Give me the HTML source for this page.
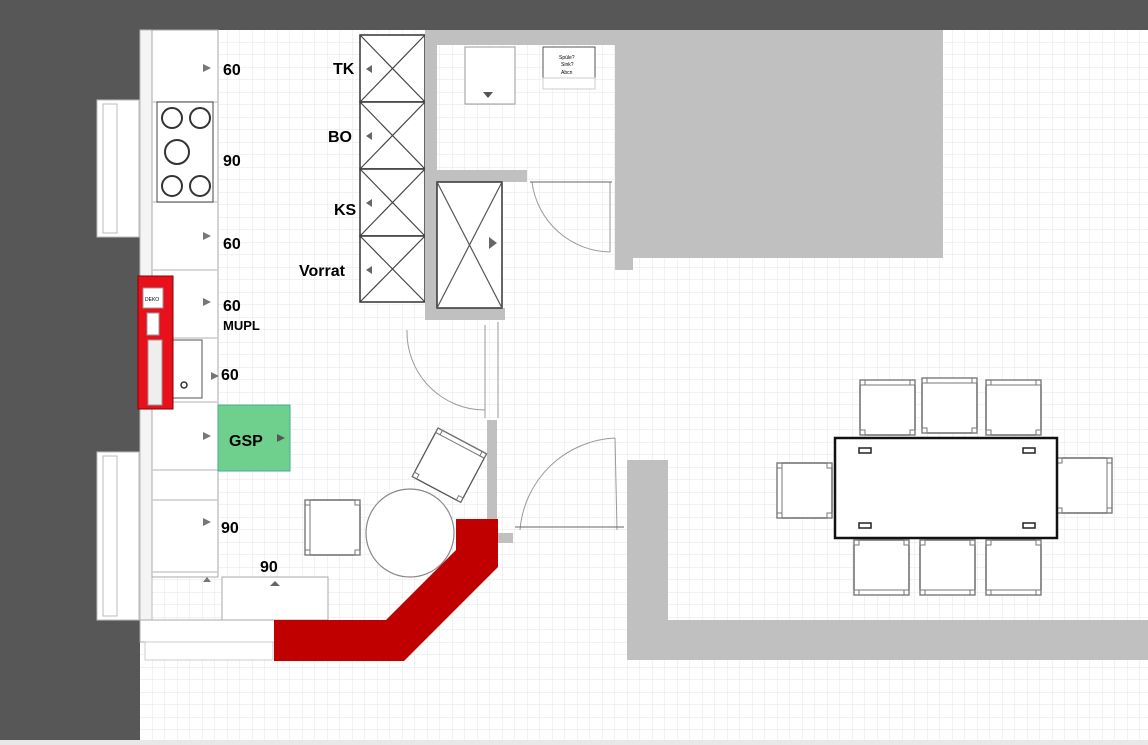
<!DOCTYPE html>
<html><head><meta charset="utf-8"><style>
html,body{margin:0;padding:0;background:#fff}
svg{display:block}
text{font-family:"Liberation Sans",sans-serif;font-weight:bold;fill:#000}
</style></head><body>
<svg width="1148" height="745" viewBox="0 0 1148 745" xmlns="http://www.w3.org/2000/svg">
<defs>
<pattern id="g" x="140" y="30" width="12.5" height="12.5" patternUnits="userSpaceOnUse">
<path d="M12.5 0V12.5H0" fill="none" stroke="#e6e6e6" stroke-width="1"/>
</pattern>
<g id="ch"><rect x="0" y="0" width="55" height="55" fill="#fff" stroke="#555" stroke-width="1.3"/><rect x="0" y="0" width="55" height="5" fill="none" stroke="#777"/><rect x="0" y="0" width="5" height="5" fill="none" stroke="#777"/><rect x="50" y="0" width="5" height="5" fill="none" stroke="#777"/><rect x="0" y="50" width="5" height="5" fill="none" stroke="#777"/><rect x="50" y="50" width="5" height="5" fill="none" stroke="#777"/></g>
</defs>
<rect width="1148" height="745" fill="#fff"/>
<rect x="140" y="30" width="1008" height="710" fill="url(#g)"/>
<rect x="0" y="0" width="1148" height="30" fill="#575757"/>
<rect x="0" y="0" width="140" height="740" fill="#575757"/>
<rect x="0" y="740" width="1148" height="5" fill="#e8e8e8"/>
<!-- windows -->
<g fill="#fff" stroke="#bbb"><rect x="97" y="100" width="42" height="137"/><rect x="103" y="104" width="14" height="129"/><rect x="97" y="452" width="42" height="168"/><rect x="103" y="456" width="14" height="160"/></g>
<!-- kitchen column -->
<rect x="140" y="30" width="12" height="590" fill="#f4f4f4" stroke="#bbb"/>
<rect x="152" y="30" width="66" height="547" fill="#fff" stroke="#aaa"/>
<g stroke="#ccc" stroke-width="1.5"><line x1="152" y1="102" x2="218" y2="102"/><line x1="152" y1="202" x2="218" y2="202"/><line x1="152" y1="270" x2="218" y2="270"/><line x1="152" y1="338" x2="218" y2="338"/><line x1="152" y1="402" x2="218" y2="402"/><line x1="152" y1="470" x2="218" y2="470"/><line x1="152" y1="500" x2="218" y2="500"/><line x1="152" y1="572" x2="218" y2="572"/></g>
<rect x="157" y="102" width="56" height="100" fill="#fff" stroke="#444"/>
<g fill="none" stroke="#333" stroke-width="2"><circle cx="172" cy="118" r="10"/><circle cx="200" cy="118" r="10"/><circle cx="177" cy="152" r="12"/><circle cx="172" cy="186" r="10"/><circle cx="200" cy="186" r="10"/></g>
<rect x="172" y="340" width="30" height="58" fill="#fff" stroke="#555"/>
<circle cx="184" cy="385" r="3" fill="none" stroke="#333" stroke-width="1.5"/>
<g fill="#777"><path d="M203 64l8 4-8 4z"/><path d="M203 232l8 4-8 4z"/><path d="M203 298l8 4-8 4z"/><path d="M211 372l8 4-8 4z"/><path d="M203 432l8 4-8 4z"/><path d="M203 518l8 4-8 4z"/><path d="M203 582l8 0-4 -5z"/></g>
<!-- red appliance -->
<rect x="138" y="276" width="35" height="133" fill="#e8101a" stroke="#800" />
<rect x="143" y="288" width="20" height="20" fill="#fff" stroke="#999"/><text x="145" y="301" style="font-size:5px;font-weight:normal">DEKO</text>
<rect x="147" y="313" width="12" height="22" fill="#fff" stroke="#999"/>
<rect x="148" y="340" width="14" height="65" fill="#eee" stroke="#999"/>
<!-- green -->
<rect x="218" y="405" width="72" height="66" fill="#6fd08e" stroke="#4a9"/>
<path d="M277 434l8 4-8 4z" fill="#555"/>
<!-- bottom counter -->
<rect x="222" y="577" width="106" height="43" fill="#fff" stroke="#aaa"/>
<path d="M270 586l5-5 5 5z" fill="#666"/>
<rect x="140" y="620" width="135" height="22" fill="#fff" stroke="#aaa"/>
<rect x="145" y="642" width="128" height="18" fill="#fff" stroke="#ccc"/>
<!-- labels -->
<g style="font-size:16px"><text x="223" y="75">60</text><text x="223" y="166">90</text><text x="223" y="249">60</text><text x="223" y="311">60</text><text x="221" y="380">60</text><text x="229" y="446">GSP</text><text x="221" y="533">90</text><text x="260" y="572">90</text>
<text x="333" y="74">TK</text><text x="328" y="142">BO</text><text x="334" y="215">KS</text><text x="299" y="276">Vorrat</text></g>
<text x="223" y="330" style="font-size:13px">MUPL</text>
<!-- tall units -->
<g fill="#fff" stroke="#333" stroke-width="1.5"><rect x="360" y="35" width="65" height="67"/><rect x="360" y="102" width="65" height="67"/><rect x="360" y="169" width="65" height="67"/><rect x="360" y="236" width="65" height="66"/></g>
<g stroke="#444" stroke-width="1.2"><path d="M360 35L425 102M425 35L360 102M360 102L425 169M425 102L360 169M360 169L425 236M425 169L360 236M360 236L425 302M425 236L360 302"/></g>
<g fill="#666"><path d="M372 65l-6 4 6 4z"/><path d="M372 132l-6 4 6 4z"/><path d="M372 199l-6 4 6 4z"/><path d="M372 266l-6 4 6 4z"/></g>
<!-- walls -->
<g fill="#c0c0c0"><rect x="425" y="30" width="12" height="290"/><rect x="425" y="30" width="518" height="15"/><rect x="615" y="30" width="328" height="228"/><rect x="615" y="30" width="18" height="240"/><rect x="437" y="170" width="90" height="12"/><rect x="425" y="308" width="80" height="12"/><rect x="487" y="420" width="10" height="100"/><rect x="497" y="533" width="16" height="10"/><rect x="627" y="460" width="41" height="200"/><rect x="627" y="620" width="521" height="40"/></g>
<rect x="437" y="182" width="65" height="126" fill="#fff" stroke="#333" stroke-width="1.5"/>
<path d="M437 182L502 308M502 182L437 308" stroke="#555" stroke-width="1.2"/>
<path d="M489 237l8 6-8 6z" fill="#666"/>
<!-- small items top -->
<rect x="465" y="47" width="50" height="57" fill="#fff" stroke="#999"/><path d="M483 92h10l-5 6z" fill="#555"/>
<rect x="543" y="47" width="52" height="31" fill="#fff" stroke="#555"/><rect x="543" y="78" width="52" height="11" fill="#fff" stroke="#ccc"/>
<text x="559" y="59" style="font-size:5px;font-weight:normal">Spüle?</text><text x="561" y="66" style="font-size:5px;font-weight:normal">Sink?</text><text x="561" y="74" style="font-size:5px;font-weight:normal">Abcn</text>
<!-- doors -->
<g fill="none" stroke="#999"><path d="M532 182A80 80 0 0 0 610 252"/><line x1="610" y1="182" x2="610" y2="252"/><line x1="530" y1="182" x2="612" y2="182" stroke="#666"/>
<path d="M407 330A78 78 0 0 0 485 410"/><line x1="485" y1="325" x2="485" y2="418"/><line x1="498" y1="322" x2="498" y2="418"/>
<path d="M520 530A100 100 0 0 1 615 438"/><line x1="615" y1="438" x2="617" y2="530"/><line x1="515" y1="527" x2="624" y2="527" stroke="#666"/></g>
<!-- round table -->
<circle cx="410" cy="533" r="44" fill="#fff" stroke="#888" stroke-width="1.2"/>
<use href="#ch" transform="translate(305 555) rotate(-90)"/>
<use href="#ch" transform="translate(438 428) rotate(28)"/>
<!-- red bench -->
<polygon points="274,620 386,620 456,550 456,519 498,519 498,567 404,661 274,661" fill="#c00000"/>
<!-- dining -->
<use href="#ch" x="860" y="380"/><use href="#ch" x="922" y="378"/><use href="#ch" x="986" y="380"/>
<use href="#ch" transform="translate(909 595) rotate(180)"/><use href="#ch" transform="translate(975 595) rotate(180)"/><use href="#ch" transform="translate(1041 595) rotate(180)"/>
<use href="#ch" transform="translate(777 518) rotate(-90)"/><use href="#ch" transform="translate(1112 458) rotate(90)"/>
<rect x="835" y="438" width="222" height="100" fill="#fff" stroke="#111" stroke-width="2.5"/>
<g fill="#fff" stroke="#222" stroke-width="1.5"><rect x="859" y="448" width="12" height="5"/><rect x="1023" y="448" width="12" height="5"/><rect x="859" y="523" width="12" height="5"/><rect x="1023" y="523" width="12" height="5"/></g>
</svg>
</body></html>
